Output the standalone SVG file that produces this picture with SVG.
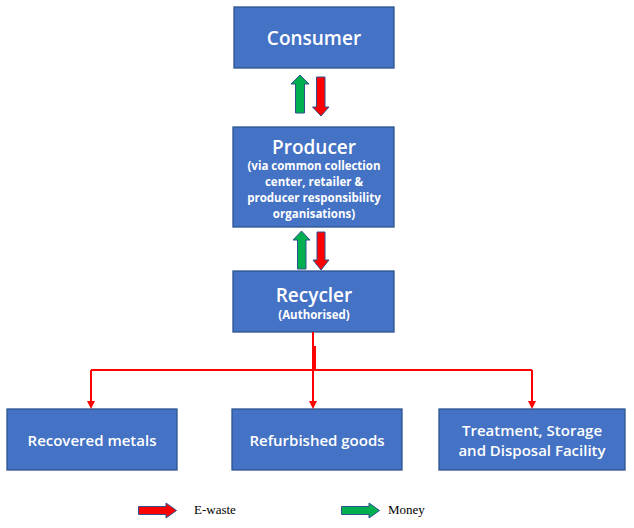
<svg xmlns="http://www.w3.org/2000/svg" width="634" height="528" viewBox="0 0 634 528">
<style>
.box{fill:#4472C4;stroke:#2F528F;stroke-width:1.3}
.t{font-family:"Open Sans","Noto Sans",sans-serif;fill:#fff;text-anchor:middle;font-weight:600}
.big{font-size:19px}
.sm{font-size:11.5px;font-weight:700}
.md{font-size:15px}
.red{fill:#FF0000;stroke:#2F528F;stroke-width:1}
.grn{fill:#00B050;stroke:#2F528F;stroke-width:1}
.conn{fill:none;stroke:#FF0000;stroke-width:2}
.lg{font-family:"Liberation Serif",serif;font-size:13px;fill:#000}
</style>
<defs>
<marker id="ah" markerWidth="8" markerHeight="8" refX="6" refY="4" orient="auto" markerUnits="userSpaceOnUse">
<path d="M0,0 L8,4 L0,8 z" fill="#FF0000"/>
</marker>
</defs>
<g id="consumer">
<rect class="box" x="234" y="7" width="160" height="61"/>
<text class="t big" x="314" y="45">Consumer</text>
</g>
<g id="producer">
<rect class="box" x="233" y="127" width="161" height="100"/>
<text class="t big" x="314" y="154">Producer</text>
<text class="t sm" x="314" y="170">(via common collection</text>
<text class="t sm" x="314" y="186">center, retailer &amp;</text>
<text class="t sm" x="314" y="202">producer responsibility</text>
<text class="t sm" x="314" y="218">organisations)</text>
</g>
<g id="recycler">
<rect class="box" x="233" y="271" width="161" height="61"/>
<text class="t big" x="314" y="302">Recycler</text>
<text class="t sm" x="314" y="319">(Authorised)</text>
</g>
<g id="recovered">
<rect class="box" x="7" y="409" width="170" height="61"/>
<text class="t md" x="92" y="446">Recovered metals</text>
</g>
<g id="refurbished">
<rect class="box" x="232" y="409" width="170" height="61"/>
<text class="t md" x="317" y="446">Refurbished goods</text>
</g>
<g id="treatment">
<rect class="box" x="439" y="409" width="186" height="61"/>
<text class="t md" x="532" y="436">Treatment, Storage</text>
<text class="t md" x="532" y="456">and Disposal Facility</text>
</g>
<g id="flow-arrows">
<path class="grn" d="M300,75 L309,84 L304.5,84 L304.5,113 L295.5,113 L295.5,84 L291,84 z"/>
<path class="red" d="M316.5,77 L325,77 L325,107 L329,107 L321,116 L312.5,107 L316.5,107 z"/>
<path class="grn" d="M301.5,231 L310,240 L306,240 L306,269 L297.5,269 L297.5,240 L293,240 z"/>
<path class="red" d="M317,232 L325,232 L325,260 L329,260 L321,270 L313,260 L317,260 z"/>
</g>
<g id="connectors">
<path class="conn" d="M313,332 L313,407" marker-end="url(#ah)"/>
<path class="conn" d="M315,346 L315,370"/>
<path class="conn" d="M91,370 L532,370"/>
<path class="conn" d="M91,370 L91,407" marker-end="url(#ah)"/>
<path class="conn" d="M532,370 L532,407" marker-end="url(#ah)"/>
</g>
<g id="legend">
<path class="red" d="M138.5,506.5 L166,506.5 L166,503 L176.5,510.5 L166,518 L166,514.5 L138.5,514.5 z"/>
<text class="lg" x="194" y="514">E-waste</text>
<path class="grn" d="M341.5,506.5 L369,506.5 L369,503 L379.5,510.5 L369,518 L369,514.5 L341.5,514.5 z"/>
<text class="lg" x="388" y="514">Money</text>
</g>
</svg>
